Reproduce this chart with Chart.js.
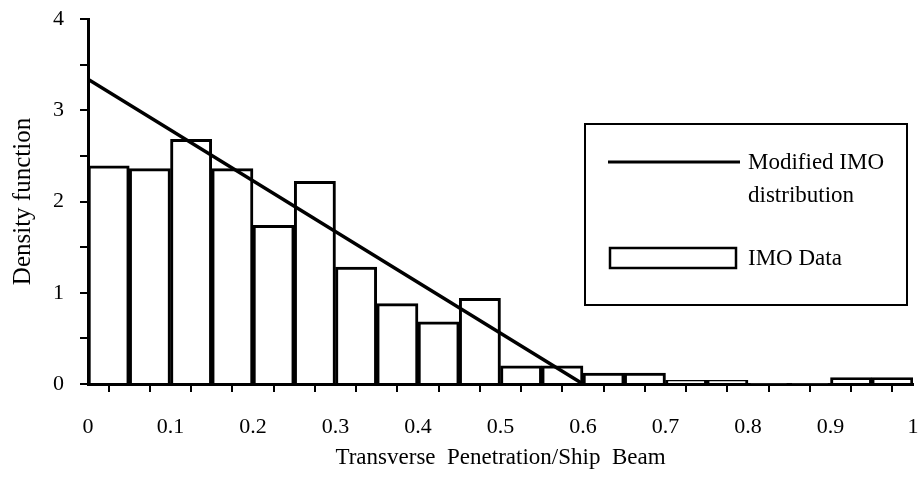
<!DOCTYPE html>
<html>
<head>
<meta charset="utf-8">
<script src="https://cdn.jsdelivr.net/npm/chart.js@4"></script>
<style>
  body { margin: 0; background: #fff; }
  #wrap { width: 920px; height: 486px; }
</style>
</head>
<body>
<div id="wrap"><canvas id="myChart" width="920" height="486"></canvas></div>
<script>
// histogram bins (left edge) and heights
var binStart = [0, 0.05, 0.1, 0.15, 0.2, 0.25, 0.3, 0.35, 0.4, 0.45, 0.5, 0.55, 0.6, 0.65, 0.7, 0.75, 0.8, 0.85, 0.9, 0.95];
var imoData  = [2.39, 2.36, 2.68, 2.36, 1.74, 2.22, 1.28, 0.88, 0.68, 0.94, 0.2, 0.2, 0.12, 0.12, 0.04, 0.04, 0.01, 0.01, 0.07, 0.07];
var binWidth = 0.05;

// modified IMO distribution line
var lineX = [0, 0.6];
var lineY = [3.34, 0];

var lineName = ['Modified IMO', 'distribution'];
var barName = 'IMO Data';
var xTitle = 'Transverse  Penetration/Ship  Beam';
var yTitle = 'Density function';

var barPoints = [];
for (let i = 0; i < binStart.length; i++) {
    barPoints.push({x: binStart[i] + binWidth / 2, y: imoData[i]});
}
var linePoints = [];
for (let i = 0; i < lineX.length; i++) {
    linePoints.push({x: lineX[i], y: lineY[i]});
}

var serif = "'Liberation Serif', 'DejaVu Serif', serif";

// box legend on the right
var legendBox = {
    id: 'legendBox',
    afterDraw: function(chart) {
        let c = chart.ctx;
        c.save();
        c.strokeStyle = '#000';
        c.lineWidth = 2;
        c.strokeRect(585, 124, 322, 181);
        c.lineWidth = 3;
        c.beginPath();
        c.moveTo(608, 162);
        c.lineTo(740, 162);
        c.stroke();
        c.lineWidth = 2.5;
        c.strokeRect(610, 248, 126, 20);
        c.fillStyle = '#000';
        c.font = '23px ' + serif;
        c.textBaseline = 'middle';
        c.fillText(lineName[0], 748, 163);
        c.fillText(lineName[1], 748, 196);
        c.fillText(barName, 748, 259);
        c.restore();
    }
};

var ctx = document.getElementById('myChart').getContext('2d');
var chart = new Chart(ctx, {
    data: {
        datasets: [{
            type: 'line',
            label: lineName.join(' '),
            data: linePoints,
            borderColor: '#000',
            borderWidth: 3.5,
            pointRadius: 0,
            fill: false,
            order: 0
        }, {
            type: 'bar',
            label: barName,
            data: barPoints,
            backgroundColor: '#fff',
            borderColor: '#000',
            borderWidth: 3,
            barPercentage: 1,
            categoryPercentage: 1,
            order: 1
        }]
    },
    options: {
        responsive: false,
        animation: false,
        layout: { padding: { top: 19, right: 7, left: 0, bottom: 0 } },
        plugins: {
            legend: { display: false },
            tooltip: { enabled: false }
        },
        scales: {
            x: {
                type: 'linear',
                min: 0,
                max: 1,
                offset: false,
                afterFit: function(s) {
                    s.height = 102;
                    s.paddingLeft = 0;
                    s.paddingRight = 0;
                },
                border: { color: '#000', width: 3 },
                grid: { drawOnChartArea: false, color: '#000', lineWidth: 2, tickLength: 8 },
                ticks: {
                    stepSize: 0.05,
                    autoSkip: false,
                    maxRotation: 0,
                    padding: 22,
                    color: '#000',
                    font: { family: serif, size: 22 },
                    callback: function(v, i) {
                        if (i % 2 == 1) return '';
                        let r = Math.round(v * 10) / 10;
                        if (r == 0) return '0';
                        if (r == 1) return '1';
                        return r.toFixed(1);
                    }
                },
                title: {
                    display: true,
                    text: xTitle,
                    color: '#000',
                    font: { family: serif, size: 23 },
                    padding: { top: 0, bottom: 14 }
                }
            },
            y: {
                min: 0,
                max: 4,
                afterFit: function(s) {
                    s.width = 88;
                    s.paddingTop = 0;
                    s.paddingBottom = 0;
                },
                border: { color: '#000', width: 3 },
                grid: { drawOnChartArea: false, color: '#000', lineWidth: 2, tickLength: 8 },
                ticks: {
                    stepSize: 0.5,
                    autoSkip: false,
                    padding: 16,
                    color: '#000',
                    font: { family: serif, size: 22 },
                    callback: function(v) {
                        if (Math.abs(v - Math.round(v)) > 0.01) return '';
                        return String(Math.round(v));
                    }
                },
                title: {
                    display: true,
                    text: yTitle,
                    color: '#000',
                    font: { family: serif, size: 25 },
                    padding: { top: 8, bottom: 0 }
                }
            }
        }
    },
    plugins: [legendBox]
});
</script>
</body>
</html>
